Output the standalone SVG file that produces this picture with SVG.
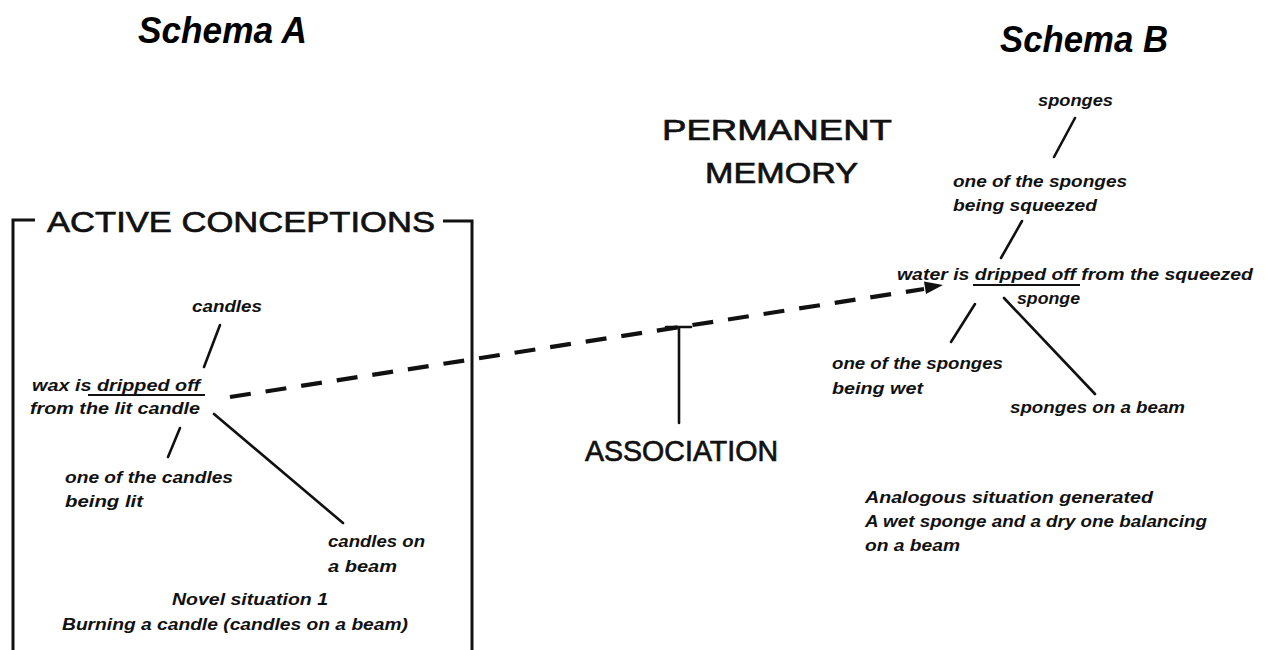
<svg xmlns="http://www.w3.org/2000/svg" width="1265" height="650" viewBox="0 0 1265 650">
<defs>
<style>
.lbl{font-family:"Liberation Sans",Arial,sans-serif;font-style:italic;font-weight:bold;font-size:16.5px;fill:#111}
.ttl{font-family:"Liberation Sans",Arial,sans-serif;font-style:italic;font-weight:bold;font-size:36px;fill:#000}
.cap{font-family:"Liberation Sans",Arial,sans-serif;font-size:30px;fill:#111;stroke:#111;stroke-width:0.7}
.ln{stroke:#111;stroke-width:2.6;fill:none;stroke-linecap:round}
.box{stroke:#111;stroke-width:3;fill:none}
.ul{stroke:#111;stroke-width:1.8}
</style>
</defs>
<rect width="1265" height="650" fill="#fff"/>

<g id="schema-a-title"><text class="ttl" x="138" y="43" textLength="169" lengthAdjust="spacingAndGlyphs">Schema A</text></g>
<g id="schema-b-title"><text class="ttl" x="1000" y="52" textLength="168" lengthAdjust="spacingAndGlyphs">Schema B</text></g>

<g id="permanent-memory">
<text class="cap" x="662" y="140" textLength="230" lengthAdjust="spacingAndGlyphs">PERMANENT</text>
<text class="cap" x="705" y="183" textLength="153" lengthAdjust="spacingAndGlyphs">MEMORY</text>
</g>

<g id="active-conceptions">
<path class="box" d="M13,650 V220 H35"/>
<path class="box" d="M443,221 H472 V650"/>
<text class="cap" x="47" y="232" textLength="388" lengthAdjust="spacingAndGlyphs">ACTIVE CONCEPTIONS</text>
</g>

<g id="association">
<text class="cap" x="585" y="461" textLength="193" lengthAdjust="spacingAndGlyphs">ASSOCIATION</text>
</g>

<g id="connectors">
<line class="ln" x1="220" y1="325" x2="204" y2="367"/>
<line class="ln" x1="180" y1="428" x2="168" y2="457"/>
<line class="ln" x1="214" y1="414" x2="343" y2="523"/>
<line class="ln" x1="1075" y1="118" x2="1054" y2="157"/>
<line class="ln" x1="1022" y1="221" x2="1001" y2="258"/>
<line class="ln" x1="975" y1="304" x2="951" y2="342"/>
<line class="ln" x1="1004" y1="298" x2="1095" y2="394"/>
<line x1="230" y1="397" x2="924" y2="289" stroke="#111" stroke-width="4.2" stroke-dasharray="21 15"/>
<polygon points="943,285 924,281.5 926,294" fill="#111"/>
<path class="ln" d="M666,327 H691 M679,327 V423"/>
</g>

<g id="node-wax">
<text class="lbl" x="32" y="391" textLength="168" lengthAdjust="spacingAndGlyphs">wax is dripped off</text>
<text class="lbl" x="30" y="414" textLength="170" lengthAdjust="spacingAndGlyphs">from the lit candle</text>
<line class="ul" x1="88" y1="395" x2="205" y2="395"/>
</g>
<g id="node-candles"><text class="lbl" x="192" y="312" textLength="70" lengthAdjust="spacingAndGlyphs">candles</text></g>
<g id="node-candle-lit">
<text class="lbl" x="65" y="483" textLength="168" lengthAdjust="spacingAndGlyphs">one of the candles</text>
<text class="lbl" x="65" y="507" textLength="78" lengthAdjust="spacingAndGlyphs">being lit</text>
</g>
<g id="node-candles-beam">
<text class="lbl" x="328" y="547" textLength="97" lengthAdjust="spacingAndGlyphs">candles on</text>
<text class="lbl" x="328" y="572" textLength="69" lengthAdjust="spacingAndGlyphs">a beam</text>
</g>
<g id="novel-situation">
<text class="lbl" x="172" y="605" textLength="156" lengthAdjust="spacingAndGlyphs">Novel situation 1</text>
<text class="lbl" x="62" y="630" textLength="346" lengthAdjust="spacingAndGlyphs">Burning a candle (candles on a beam)</text>
</g>

<g id="node-sponges"><text class="lbl" x="1038" y="106" textLength="75" lengthAdjust="spacingAndGlyphs">sponges</text></g>
<g id="node-squeezed">
<text class="lbl" x="953" y="187" textLength="174" lengthAdjust="spacingAndGlyphs">one of the sponges</text>
<text class="lbl" x="953" y="211" textLength="144" lengthAdjust="spacingAndGlyphs">being squeezed</text>
</g>
<g id="node-water">
<text class="lbl" x="897" y="280" textLength="356" lengthAdjust="spacingAndGlyphs">water is dripped off from the squeezed</text>
<text class="lbl" x="1017" y="304" textLength="63" lengthAdjust="spacingAndGlyphs">sponge</text>
<line class="ul" x1="973" y1="285" x2="1080" y2="285"/>
</g>
<g id="node-wet">
<text class="lbl" x="832" y="369" textLength="171" lengthAdjust="spacingAndGlyphs">one of the sponges</text>
<text class="lbl" x="832" y="394" textLength="91" lengthAdjust="spacingAndGlyphs">being wet</text>
</g>
<g id="node-sponges-beam"><text class="lbl" x="1010" y="413" textLength="175" lengthAdjust="spacingAndGlyphs">sponges on a beam</text></g>
<g id="analogous">
<text class="lbl" x="865" y="503" textLength="288" lengthAdjust="spacingAndGlyphs">Analogous situation generated</text>
<text class="lbl" x="865" y="527" textLength="342" lengthAdjust="spacingAndGlyphs">A wet sponge and a dry one balancing</text>
<text class="lbl" x="865" y="551" textLength="95" lengthAdjust="spacingAndGlyphs">on a beam</text>
</g>
</svg>
